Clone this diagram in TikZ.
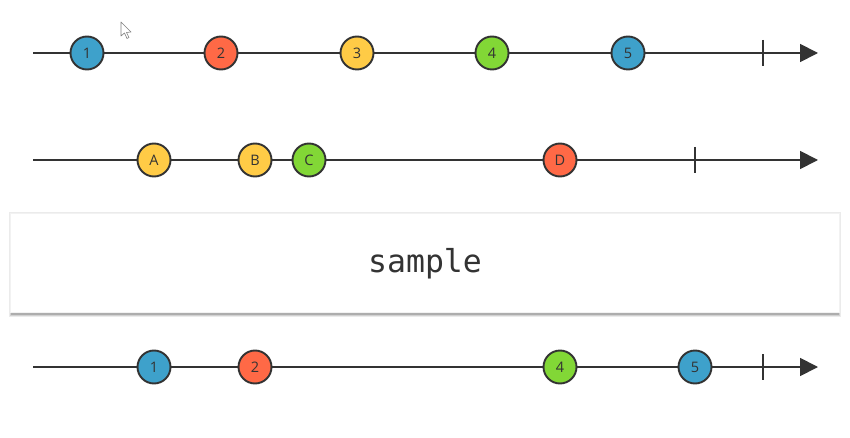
\documentclass[tikz,border=0pt]{standalone}
\usepackage{fontspec}
\usepackage{xcolor}
\usepackage{tikz}
\usetikzlibrary{arrows.meta, positioning, calc}
\newfontfamily\marblefont{Open Sans}
\newfontfamily\opfont{DejaVu Sans Mono}
\definecolor{mblue}{HTML}{3EA1CB}
\definecolor{mred}{HTML}{FF6946}
\definecolor{myellow}{HTML}{FFCB46}
\definecolor{mgreen}{HTML}{82D736}
\definecolor{ink}{HTML}{333333}

\begin{document}
\begin{tikzpicture}[x=1pt, y=-1pt,
    every node/.style={font=\marblefont\fontsize{14.5}{14.5}\selectfont, text=ink},
    marble/.style={circle, draw=ink, line width=1.9pt, minimum size=33pt, inner sep=0pt},
    timeline/.style={draw=ink, line width=1.8pt, -{Triangle[length=18pt, width=18pt]}},
    endtick/.style={draw=ink, line width=1.8pt}]
    \useasboundingbox[fill=white] (0, 0) rectangle (850, 438);

    % 鼠标指针
    \draw[gray, line width=0.6pt, fill=white, line join=round]
        (121, 22) -- (121, 36) -- (124.5, 33) -- (127, 38.5) -- (129, 37.5)
        -- (126.5, 32.5) -- (131, 32) -- cycle;

    % 第一条
    \coordinate (s1) at (33, 53);
    \coordinate (e1) at (818, 53);
    \coordinate (t1) at (763, 53);
    \draw[timeline] (s1) -- (e1);
    \draw[endtick] ($(t1)+(0,-13)$) -- ($(t1)+(0,13)$);
    \node[marble, fill=mblue] (a1) at (87, 53) {1};
    \node[marble, fill=mred] (a2) at (221, 53) {2};
    \node[marble, fill=myellow] (a3) at (357, 53) {3};
    \node[marble, fill=mgreen] (a4) at (492, 53) {4};
    \node[marble, fill=mblue] (a5) at (628, 53) {5};

    % 第二条
    \coordinate (s2) at (33, 160);
    \coordinate (e2) at (818, 160);
    \coordinate (t2) at (695, 160);
    \draw[timeline] (s2) -- (e2);
    \draw[endtick] ($(t2)+(0,-13)$) -- ($(t2)+(0,13)$);
    \node[marble, fill=myellow] (bA) at (154, 160) {A};
    \node[marble, fill=myellow] (bB) at (255, 160) {B};
    \node[marble, fill=mgreen] (bC) at (309, 160) {C};
    \node[marble, fill=mred] (bD) at (560, 160) {D};

    % 算子
    \fill[black!8] (9, 212) rectangle (841, 317);
    \fill[black!18] (10, 214) rectangle (840, 316);
    \fill[black!32] (11, 216) rectangle (839, 314.5);
    \node[draw=black!5, fill=white, line width=0.8pt, minimum width=829pt,
          minimum height=99pt, inner sep=0pt] (op) at (425, 262.5) {};
    \node[font=\opfont\fontsize{31.5}{31.5}\selectfont] (oplabel) at (425, 264) {sample};

    % 结果
    \coordinate (s3) at (33, 367);
    \coordinate (e3) at (818, 367);
    \coordinate (t3) at (763, 367);
    \draw[timeline] (s3) -- (e3);
    \draw[endtick] ($(t3)+(0,-13)$) -- ($(t3)+(0,13)$);
    \node[marble, fill=mblue] (c1) at (154, 367) {1};
    \node[marble, fill=mred] (c2) at (255, 367) {2};
    \node[marble, fill=mgreen] (c4) at (560, 367) {4};
    \node[marble, fill=mblue] (c5) at (695, 367) {5};
\end{tikzpicture}
\end{document}
